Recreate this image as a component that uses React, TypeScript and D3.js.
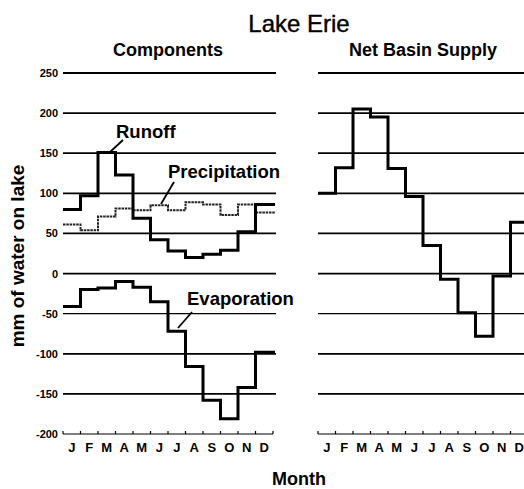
import React from "react";
import * as d3 from "d3";

const months = ["J", "F", "M", "A", "M", "J", "J", "A", "S", "O", "N", "D"];
const yTicks = [250, 200, 150, 100, 50, 0, -50, -100, -150, -200];
const runoff = [80, 97, 151, 123, 69, 42, 28, 20, 24, 29, 52, 86];
const precipitation = [61, 54, 71, 81, 79, 85, 79, 89, 86, 73, 86, 76];
const evaporation = [-41, -20, -18, -10, -17, -35, -72, -116, -158, -181, -142, -98];
const netBasinSupply = [100, 132, 205, 195, 131, 96, 35, -7, -49, -78, -3, 64];

const W = 524;
const H = 489;
const FONT = "'Liberation Sans', Arial, Helvetica, sans-serif";

const y = d3.scaleLinear().domain([-200, 250]).range([434, 73]);
const xLeft = d3.scaleLinear().domain([0, 12]).range([63, 273]);
const xRight = d3.scaleLinear().domain([0, 12]).range([318, 528]);

function stepPath(vals: number[], x: d3.ScaleLinear<number, number>) {
  const pts: [number, number][] = vals.map((v, i) => [x(i), y(v)]);
  pts.push([x(12) + 2, y(vals[vals.length - 1])]);
  return d3.line().curve(d3.curveStepAfter)(pts) || "";
}

function Panel({ x, gridEnd }: { x: d3.ScaleLinear<number, number>; gridEnd: number }) {
  const x0 = x(0);
  return (
    <g>
      {yTicks.filter((t) => t > -200).map((t) => (
        <line key={t} x1={x0} x2={gridEnd} y1={y(t)} y2={y(t)} stroke="#000" strokeWidth={t === -50 ? 1.1 : 1.8} />
      ))}
      <line x1={x0} x2={x(12)} y1={y(-200)} y2={y(-200)} stroke="#000" strokeWidth={1.2} />
      {d3.range(0, 13).map((i) => (
        <line key={i} x1={x(i)} x2={x(i)} y1={y(-200)} y2={y(-200) - 3} stroke="#000" strokeWidth={1.2} />
      ))}
      {months.map((m, i) => (
        <text key={i} x={x(i + 0.5)} y={452} textAnchor="middle" fontFamily={FONT} fontWeight="bold" fontSize={13}>
          {m}
        </text>
      ))}
    </g>
  );
}

export default function App() {
  return (
    <svg width={W} height={H} style={{ position: "absolute", left: 0, top: 0, background: "#fff" }}>
      <rect width={W} height={H} fill="#fff" />
      <text x={299} y={32} textAnchor="middle" fontFamily={FONT} fontSize={24} stroke="#000" strokeWidth={0.4}>Lake Erie</text>
      <text x={168} y={56} textAnchor="middle" fontFamily={FONT} fontWeight="bold" fontSize={18}>Components</text>
      <text x={423} y={56} textAnchor="middle" fontFamily={FONT} fontWeight="bold" fontSize={18}>Net Basin Supply</text>

      {yTicks.map((t) => (
        <text key={t} x={58} y={y(t) + 4} textAnchor="end" fontFamily={FONT} fontWeight="bold" fontSize={11}>
          {t}
        </text>
      ))}

      <Panel x={xLeft} gridEnd={276} />
      <Panel x={xRight} gridEnd={528} />

      <path d={stepPath(precipitation, xLeft)} fill="none" stroke="#222" strokeWidth={2} strokeDasharray="2.5,0.8" />
      <path d={stepPath(runoff, xLeft)} fill="none" stroke="#000" strokeWidth={3} />
      <path d={stepPath(evaporation, xLeft)} fill="none" stroke="#000" strokeWidth={3} />
      <path d={stepPath(netBasinSupply, xRight)} fill="none" stroke="#000" strokeWidth={3} />

      <text x={116} y={138} fontFamily={FONT} fontWeight="bold" fontSize={18.5} fill="#000">Runoff</text>
      <line x1={123} y1={140} x2={110} y2={152} stroke="#000" strokeWidth={1.8} />
      <text x={168} y={178} fontFamily={FONT} fontWeight="bold" fontSize={18.5} fill="#000">Precipitation</text>
      <line x1={174} y1={182} x2={161} y2={204} stroke="#000" strokeWidth={1.8} />
      <text x={187} y={305} fontFamily={FONT} fontWeight="bold" fontSize={18.5} fill="#000">Evaporation</text>
      <line x1={192} y1={312} x2={178} y2={328} stroke="#000" strokeWidth={1.8} />

      <text x={299} y={485} textAnchor="middle" fontFamily={FONT} fontWeight="bold" fontSize={18}>Month</text>
      <text transform={`translate(24,256) rotate(-90)`} textAnchor="middle" fontFamily={FONT} fontWeight="bold" fontSize={19}>
        mm of water on lake
      </text>
    </svg>
  );
}
